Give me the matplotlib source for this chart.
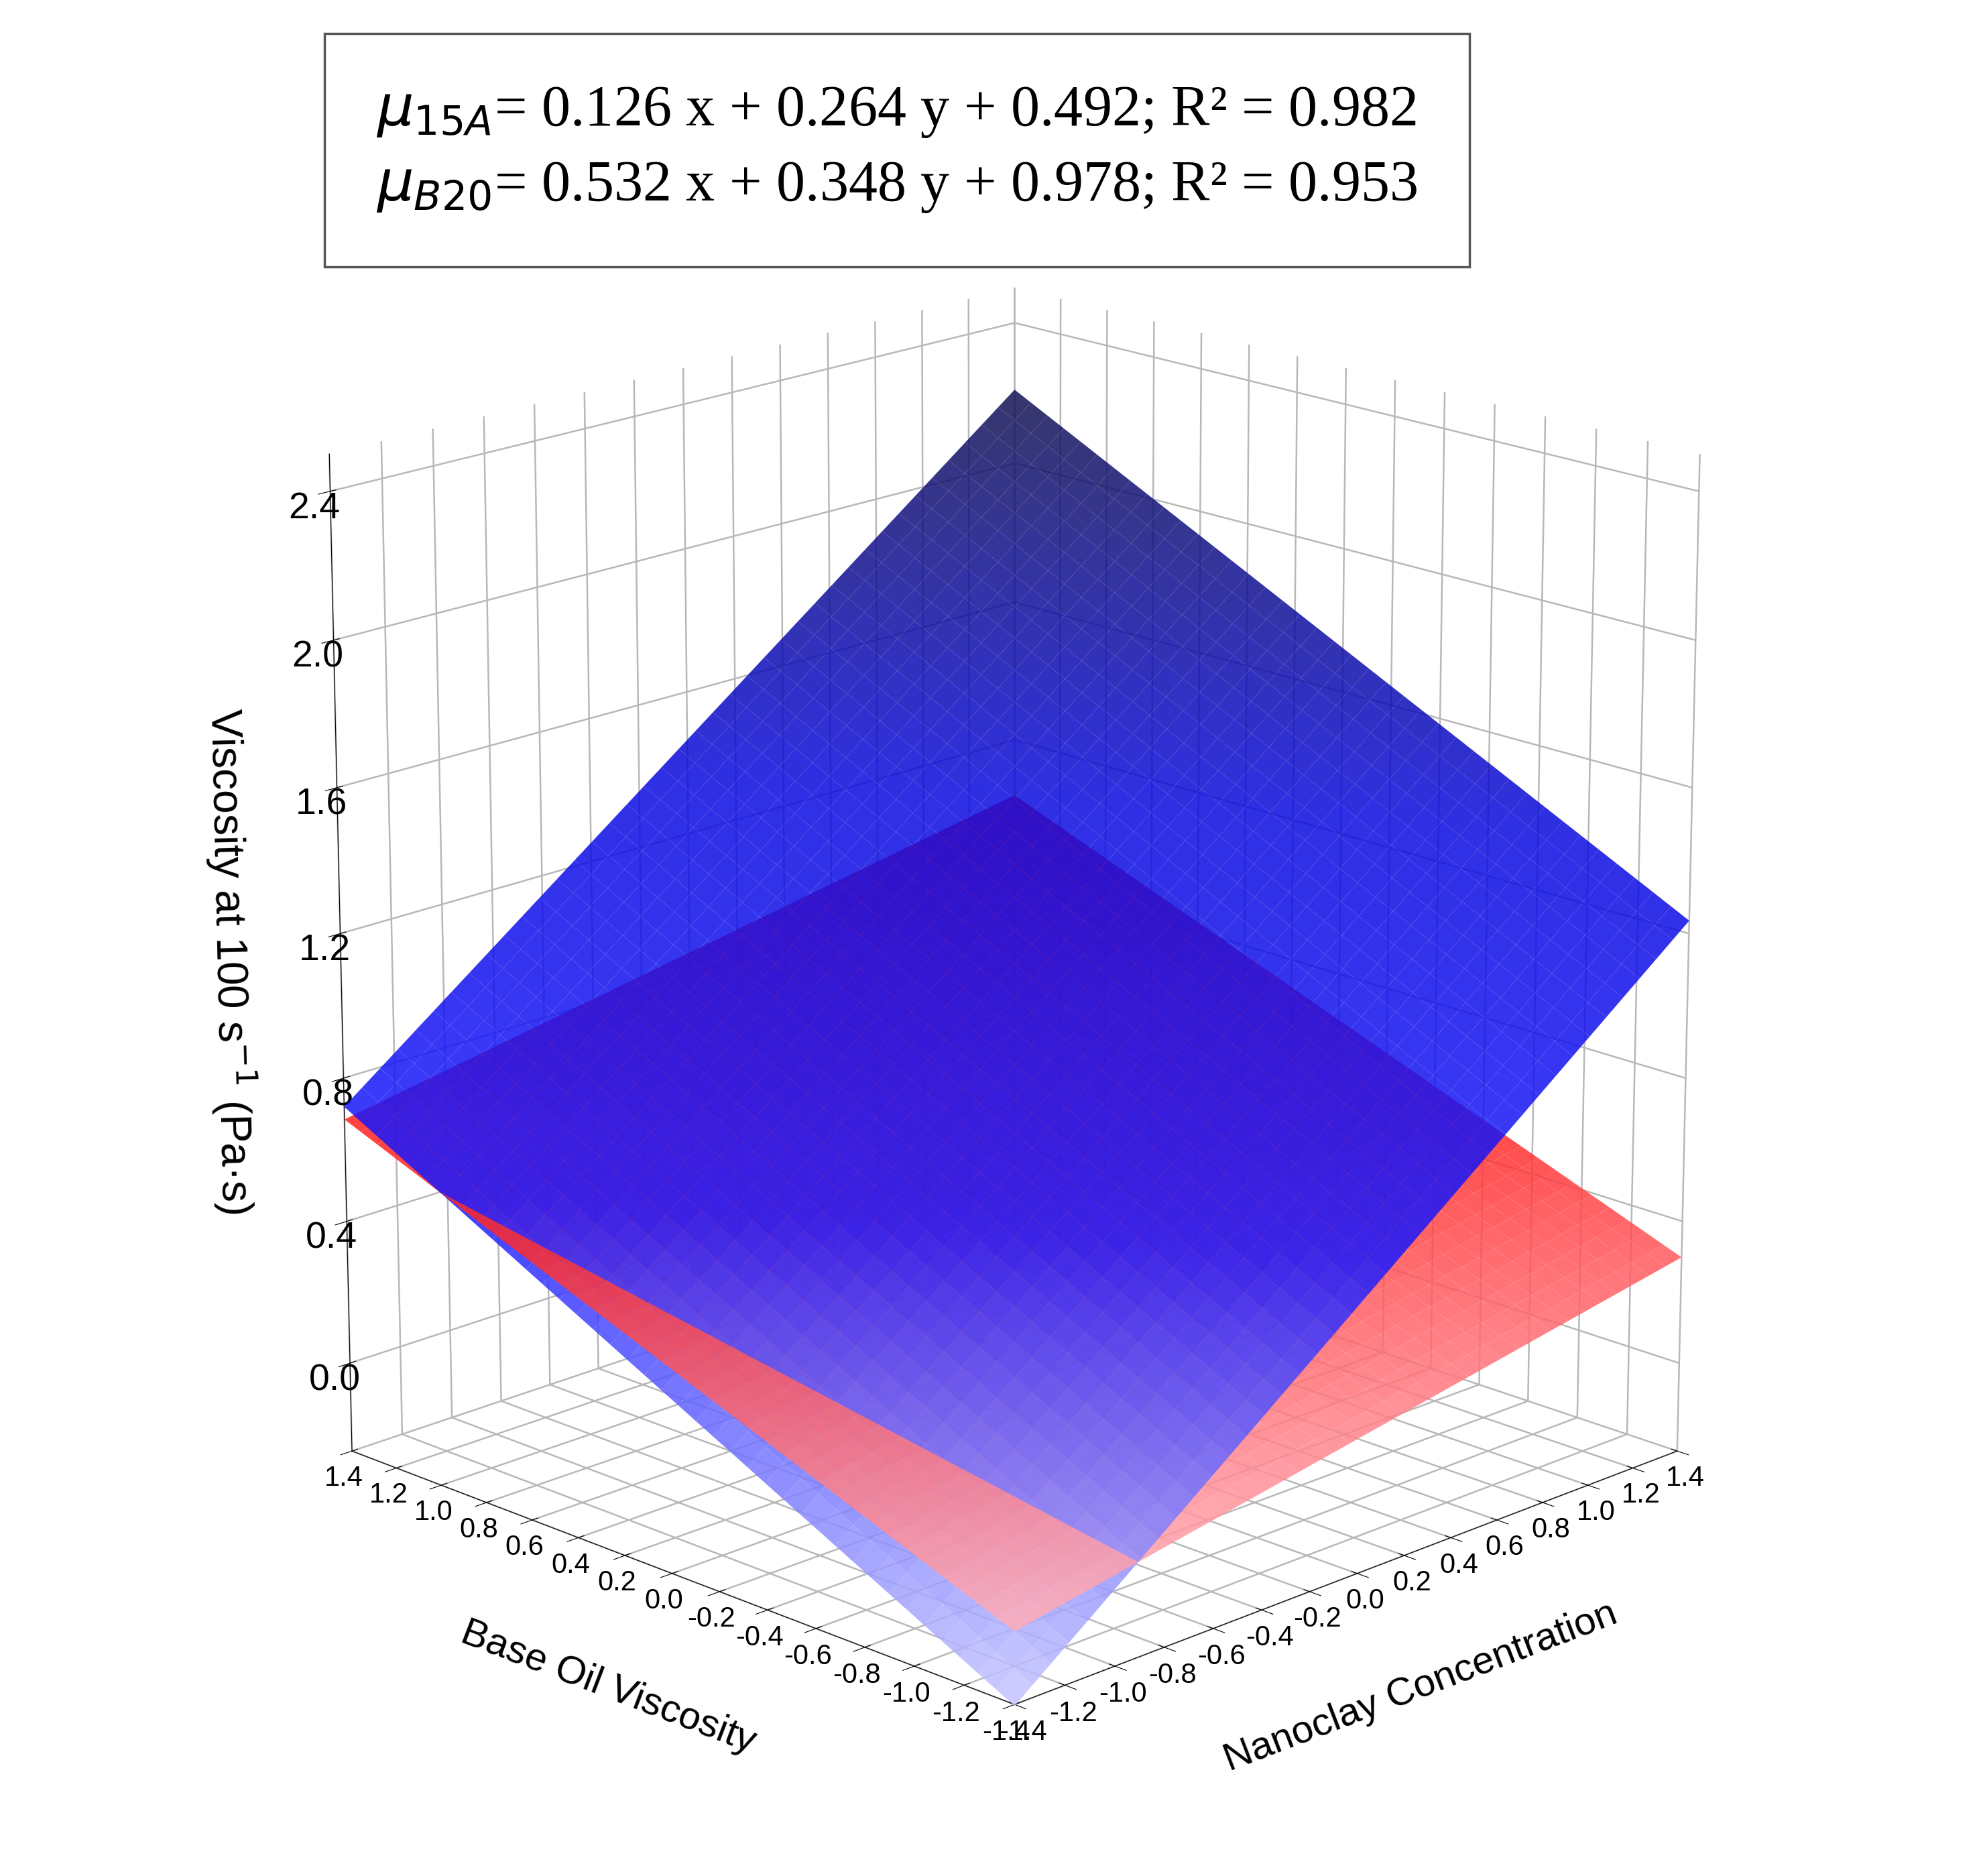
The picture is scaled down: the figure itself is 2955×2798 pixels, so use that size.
import numpy as np
import matplotlib
matplotlib.use("Agg")
import matplotlib.pyplot as plt
from matplotlib.colors import LinearSegmentedColormap
from mpl_toolkits.mplot3d.art3d import Poly3DCollection

# Data: plane fits (x = nanoclay concentration, y = base oil viscosity)
coef_15A = [0.126, 0.264, 0.492]
coef_B20 = [0.532, 0.348, 0.978]
r2_15A = 0.982
r2_B20 = 0.953
axis_ticks = [-1.4, -1.2, -1.0, -0.8, -0.6, -0.4, -0.2, 0.0, 0.2, 0.4, 0.6, 0.8, 1.0, 1.2, 1.4]
z_ticks = [0.0, 0.4, 0.8, 1.2, 1.6, 2.0, 2.4]

plt.rcParams['font.family'] = ['Liberation Sans', 'DejaVu Sans']
fig = plt.figure(figsize=(29.55, 27.98), dpi=100)
ax = fig.add_axes([-0.02, 0.0, 1.04, 0.95], projection='3d', computed_zorder=False)

g = np.linspace(-1.4, 1.4, 40)

def plane(c, x, y):
    return c[0] * x + c[1] * y + c[2]

def diff(x, y):
    return plane(coef_B20, x, y) - plane(coef_15A, x, y)

def clip(pts, sign):
    # keep part of 2D polygon where sign*diff >= 0
    out = []
    n = len(pts)
    for k in range(n):
        p, q = pts[k], pts[(k + 1) % n]
        dp, dq = sign * diff(*p), sign * diff(*q)
        if dp >= 0:
            out.append(p)
        if (dp >= 0) != (dq >= 0):
            t = dp / (dp - dq)
            out.append((p[0] + t * (q[0] - p[0]), p[1] + t * (q[1] - p[1])))
    return out

red_cmap = LinearSegmentedColormap.from_list('r', ['#ffb0bc', '#ff2a2a', '#ff1010'])
blue_cmap = LinearSegmentedColormap.from_list('b', ['#c8c8ff', '#1a1aff', '#0a0ae0', '#141450'])

def build(c, cmap, alpha, sign):
    zmin = plane(c, -1.4, -1.4)
    zmax = plane(c, 1.4, 1.4)
    polys, cols = [], []
    for i in range(len(g) - 1):
        for j in range(len(g) - 1):
            quad = [(g[i], g[j]), (g[i + 1], g[j]), (g[i + 1], g[j + 1]), (g[i], g[j + 1])]
            pts = clip(quad, sign) if sign else quad
            if len(pts) < 3:
                continue
            zs = [plane(c, x, y) for x, y in pts]
            polys.append([(x, y, z) for (x, y), z in zip(pts, zs)])
            col = list(cmap((np.mean(zs) - zmin) / (zmax - zmin)))
            col[3] = alpha
            cols.append(col)
    return Poly3DCollection(polys, facecolors=cols, edgecolors='none', linewidths=0)

blue_low = build(coef_B20, blue_cmap, 0.85, -1)
red_all = build(coef_15A, red_cmap, 0.85, 0)
blue_high = build(coef_B20, blue_cmap, 0.85, 1)
for z, col in enumerate((blue_low, red_all, blue_high)):
    col.set_zorder(2 + z)
    ax.add_collection3d(col)

ax.set_xlim(-1.4, 1.4)
ax.set_ylim(-1.4, 1.4)
ax.set_zlim(-0.25, 2.5)
ax.set_xticks(axis_ticks)
ax.set_yticks(axis_ticks)
ax.set_zticks(z_ticks)
ax.set_xticklabels([f"{t:.1f}" for t in axis_ticks], fontsize=30)
ax.set_yticklabels([f"{t:.1f}" for t in axis_ticks], fontsize=30)
ax.set_zticklabels([f"{t:.1f}" for t in z_ticks], fontsize=40)
ax.set_xlabel('Nanoclay Concentration', fontsize=42, labelpad=70)
ax.set_ylabel('Base Oil Viscosity', fontsize=42, labelpad=70)
ax.set_zlabel('Viscosity at 100 s$^{-1}$ (Pa·s)', fontsize=46, labelpad=60)
for a in (ax.xaxis, ax.yaxis, ax.zaxis):
    a.set_pane_color((1, 1, 1, 0))
    a._axinfo['grid']['color'] = (0.72, 0.72, 0.72, 1)
    a._axinfo['grid']['linewidth'] = 1.8
ax.view_init(elev=18, azim=-135)
ax.set_box_aspect((1, 1, 1.1), zoom=0.93)

txt = (r"$\mathit{\mu_{15A}}$" + f"= {coef_15A[0]} x + {coef_15A[1]} y + {coef_15A[2]}; R² = {r2_15A}\n"
       r"$\mathit{\mu_{B20}}$" + f"= {coef_B20[0]} x + {coef_B20[1]} y + {coef_B20[2]}; R² = {r2_B20}")
fig.text(0.19, 0.92, txt, fontsize=62, family=['Liberation Serif', 'DejaVu Serif'],
         va='center', ha='left', linespacing=1.5,
         bbox=dict(boxstyle='square,pad=0.9', fc='white', ec='#555555', lw=2.5))
fig.savefig('out.png', dpi=100)
